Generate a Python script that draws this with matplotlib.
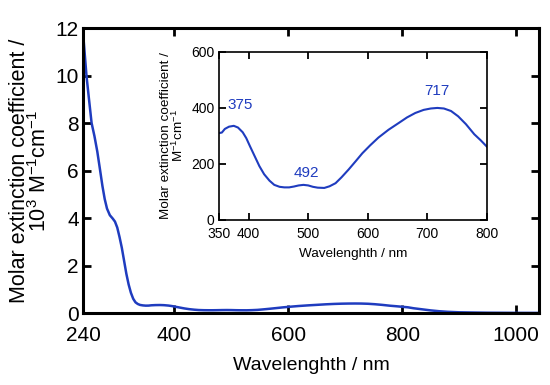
import matplotlib
matplotlib.use("Agg")
import matplotlib.pyplot as plt
import numpy as np

plt.rcParams["font.family"] = ["Liberation Sans", "DejaVu Sans"]
plt.rcParams["mathtext.fontset"] = "custom"
plt.rcParams["mathtext.rm"] = "Liberation Sans"
plt.rcParams["mathtext.it"] = "Liberation Sans"

BLUE = "#1f3cbf"

# UV region of the full spectrum (10^3 M^-1 cm^-1)
uv_wl = [240, 243, 246, 250, 255, 260, 265, 270, 274, 278, 282, 287, 292,
         296, 300, 304, 308, 312, 316, 320, 324, 328, 332, 336, 340, 345]
uv_eps = [11.8, 10.9, 10.0, 9.1, 8.0, 7.45, 6.8, 6.0, 5.35, 4.8, 4.4, 4.12,
          3.98, 3.85, 3.6, 3.2, 2.75, 2.2, 1.65, 1.2, 0.85, 0.6, 0.45, 0.38,
          0.34, 0.32]

# visible region, as in the inset (M^-1 cm^-1)
vis_wl = [350, 355, 360, 367, 375, 382, 390, 396, 402, 410, 418, 426, 435,
          443, 452, 460, 468, 476, 484, 492, 500, 508, 516, 527, 536, 546,
          556, 568, 580, 591, 604, 618, 635, 652, 666, 680, 694, 706, 717,
          728, 740, 752, 765, 779, 790, 800]
vis_eps = [310, 312, 325, 333, 336, 330, 313, 292, 264, 228, 192, 163, 140,
           125, 118, 116, 116, 119, 123, 125, 123, 118, 115, 114, 120, 131,
           152, 180, 210, 238, 266, 294, 322, 346, 366, 382, 393, 398, 400,
           398, 389, 370, 342, 306, 284, 262]

# NIR tail of the full spectrum (10^3 M^-1 cm^-1)
nir_wl = [810, 820, 835, 850, 865, 880, 900, 925, 950, 1000, 1040]
nir_eps = [0.24, 0.2, 0.155, 0.11, 0.075, 0.05, 0.03, 0.02, 0.012, 0.006, 0.004]

peak_wl = [375, 492, 717]
peak_label_pos = [(386, 412), (497, 168), (717, 462)]

full_wl = np.concatenate([uv_wl, vis_wl, nir_wl])
full_eps = np.concatenate([uv_eps, np.array(vis_eps) / 1000.0, nir_eps])

fig = plt.figure(figsize=(5.5, 3.85), dpi=100)
ax = fig.add_axes([0.151, 0.187, 0.829, 0.740])
ax.plot(full_wl, full_eps, color=BLUE, lw=1.8, solid_joinstyle="round")
ax.set_xlim(240, 1040)
ax.set_ylim(0, 12)
ax.set_xticks([240, 400, 600, 800, 1000])
ax.set_yticks([0, 2, 4, 6, 8, 10, 12])
ax.tick_params(direction="in", length=6, width=2, labelsize=15,
               top=True, right=True)
ax.tick_params(axis="x", pad=9)
ax.tick_params(axis="y", pad=3)
for s in ax.spines.values():
    s.set_linewidth(2.2)
ax.set_xlabel("Wavelenghth / nm", fontsize=14, labelpad=9)
ax.set_ylabel("Molar extinction coefficient /\n10$^3$ M$^{-1}$cm$^{-1}$",
              fontsize=15.5, labelpad=3, linespacing=0.9)

ins = fig.add_axes([0.398, 0.429, 0.487, 0.436])
ins.plot(vis_wl, vis_eps, color=BLUE, lw=1.5, solid_joinstyle="round")
ins.set_xlim(350, 800)
ins.set_ylim(0, 600)
ins.set_xticks([350, 400, 500, 600, 700, 800])
ins.set_yticks([0, 200, 400, 600])
ins.tick_params(direction="in", length=5, width=1.3, labelsize=10,
                top=True, right=True)
ins.tick_params(axis="x", pad=5)
ins.tick_params(axis="y", pad=3)
for s in ins.spines.values():
    s.set_linewidth(1.2)
ins.set_xlabel("Wavelenghth / nm", fontsize=9.7, labelpad=5)
ins.set_ylabel("Molar extinction coefficient /\nM$^{-1}$cm$^{-1}$",
               fontsize=9.7, labelpad=4, linespacing=0.9)
for p, (x, y) in zip(peak_wl, peak_label_pos):
    ins.text(x, y, str(p), color=BLUE, fontsize=11, ha="center", va="center")

fig.savefig("out.png", dpi=100)
